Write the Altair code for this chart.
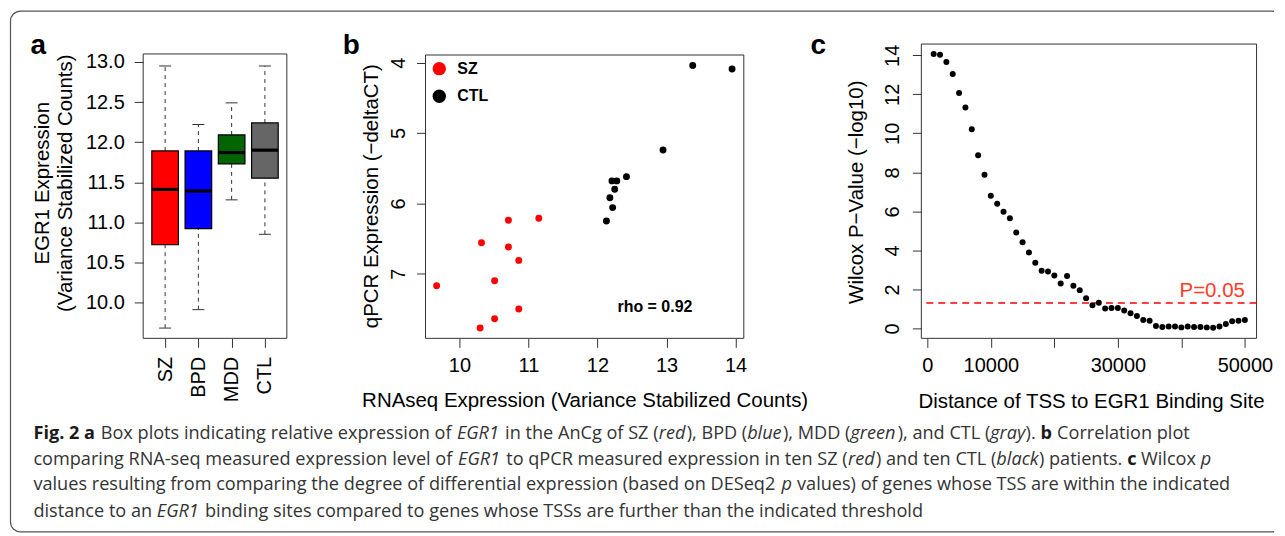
import json
import altair as alt
import pandas as pd

FONT = "Liberation Sans"
CAP_FONT = "Open Sans"

# ---------------- Panel a: box plot summary values ----------------
groups = ["SZ", "BPD", "MDD", "CTL"]
group_pos = [1, 2, 3, 4]
whisker_low = [9.68, 9.91, 11.28, 10.85]
box_q1 = [10.72, 10.92, 11.73, 11.55]
box_median = [11.41, 11.39, 11.87, 11.90]
box_q3 = [11.89, 11.89, 12.09, 12.24]
whisker_high = [12.95, 12.22, 12.49, 12.95]
box_colors = ["#ff0000", "#0000ff", "#006400", "#666666"]
a_ticks = [10.0, 10.5, 11.0, 11.5, 12.0, 12.5, 13.0]

# ---------------- Panel b: RNAseq vs qPCR ----------------
sz_rnaseq = [9.67, 10.30, 10.51, 10.86, 10.51, 10.86, 10.71, 10.32, 10.71, 11.15]
sz_qpcr = [7.17, 7.77, 7.64, 7.50, 7.10, 6.81, 6.62, 6.56, 6.24, 6.21]
ctl_rnaseq = [12.13, 12.22, 12.18, 12.25, 12.21, 12.28, 12.42, 12.95, 13.38, 13.95]
ctl_qpcr = [6.25, 6.06, 5.92, 5.80, 5.68, 5.68, 5.62, 5.24, 4.04, 4.09]
legend_groups = ["SZ", "CTL"]
legend_colors = ["#ff0000", "#000000"]
rho_label = "rho = 0.92"
b_xticks = [10, 11, 12, 13, 14]
b_yticks = [4, 5, 6, 7]

# ---------------- Panel c: Wilcox p-values vs distance ----------------
distance = [1000, 2000, 3000, 4000, 5000, 6000, 7000, 8000, 9000, 10000,
            11000, 12000, 13000, 14000, 15000, 16000, 17000, 18000, 19000, 20000,
            21000, 22000, 23000, 24000, 25000, 26000, 27000, 28000, 29000, 30000,
            31000, 32000, 33000, 34000, 35000, 36000, 37000, 38000, 39000, 40000,
            41000, 42000, 43000, 44000, 45000, 46000, 47000, 48000, 49000, 50000]
neglog10_p = [14.07, 14.03, 13.66, 13.04, 12.07, 11.32, 10.21, 8.87, 7.88, 6.80,
              6.39, 5.98, 5.64, 4.91, 4.42, 3.89, 3.36, 2.95, 2.92, 2.71,
              2.30, 2.69, 2.18, 1.96, 1.55, 1.18, 1.31, 1.02, 1.04, 1.04,
              0.92, 0.77, 0.63, 0.43, 0.39, 0.12, 0.07, 0.09, 0.10, 0.05,
              0.10, 0.07, 0.07, 0.05, 0.03, 0.09, 0.22, 0.36, 0.39, 0.43]
p_threshold = 1.301  # -log10(0.05)
p_label = "P=0.05"
c_xticks = [0, 10000, 20000, 30000, 40000, 50000]
c_yticks = [0, 2, 4, 6, 8, 10, 12, 14]

# ---------------- Caption ----------------
caption_lines = [
    [("Fig. 2 a", "b"), (" Box plots indicating relative expression of ", "r"), ("EGR1", "i"),
     (" in the AnCg of SZ (", "r"), ("red", "i"), ("), BPD (", "r"), ("blue", "i"),
     ("), MDD (", "r"), ("green", "i"), ("), and CTL (", "r"), ("gray", "i"), ("). ", "r"),
     ("b", "b"), (" Correlation plot", "r")],
    [("comparing RNA-seq measured expression level of ", "r"), ("EGR1", "i"),
     (" to qPCR measured expression in ten SZ (", "r"), ("red", "i"), (") and ten CTL (", "r"),
     ("black", "i"), (") patients. ", "r"), ("c", "b"), (" Wilcox ", "r"), ("p", "i")],
    [("values resulting from comparing the degree of differential expression (based on DESeq2 ", "r"),
     ("p", "i"), (" values) of genes whose TSS are within the indicated", "r")],
    [("distance to an ", "r"), ("EGR1", "i"),
     (" binding sites compared to genes whose TSSs are further than the indicated threshold", "r")],
]

# approximate Open Sans advance widths (units per 2048 em)
OS_W = {" ": 532, "!": 545, "(": 606, ")": 606, ",": 502, "-": 659, ".": 545, ":": 545, "=": 1171,
        "A": 1296, "B": 1327, "C": 1292, "D": 1493, "E": 1139, "F": 1057, "G": 1491, "H": 1511,
        "I": 571, "J": 547, "K": 1257, "L": 1063, "M": 1849, "N": 1544, "O": 1595, "P": 1233,
        "Q": 1595, "R": 1266, "S": 1124, "T": 1133, "U": 1491, "V": 1219, "W": 1896, "X": 1182,
        "Y": 1147, "Z": 1169, "a": 1139, "b": 1255, "c": 975, "d": 1255, "e": 1149, "f": 694,
        "g": 1122, "h": 1257, "i": 518, "j": 518, "k": 1075, "l": 518, "m": 1905, "n": 1257,
        "o": 1237, "p": 1255, "q": 1255, "r": 836, "s": 977, "t": 723, "u": 1257, "v": 1026,
        "w": 1593, "x": 1073, "y": 1028, "z": 977}
STYLE_F = {"r": 1.0, "b": 1.07, "i": 0.97}


def em_width(s, style):
    w = sum(OS_W.get(ch, 1171) for ch in s) / 2048.0
    return w * STYLE_F[style]


def axis(**kw):
    base = dict(domain=False, grid=False, ticks=True, tickSize=9, tickColor="#333333",
                tickWidth=1, labelFont=FONT, labelFontSize=20, labelColor="black",
                labelFlush=False, labelOverlap=False, titleFont=FONT, titleFontSize=20.5,
                titleColor="black", titleFontWeight="normal")
    base.update(kw)
    return alt.Axis(**base)


one_row = pd.DataFrame({"k": [0]})
H = 295
# page position of panel a's plot origin (all extra annotations are placed relative to it)
OX, OY = 143, 43
PANEL_B_X = 426
BORDER_L, BORDER_T, BORDER_R, BORDER_B = 10, 10, 1276, 532

# ================= Panel a =================
df_a = pd.DataFrame({"group": groups, "pos": group_pos, "wlo": whisker_low, "q1": box_q1,
                     "med": box_median, "q3": box_q3, "whi": whisker_high, "color": box_colors})
xa = alt.Scale(domain=[0.34, 4.66], nice=False, zero=False)
ya = alt.Scale(domain=[9.552, 13.224], nice=False, zero=False)
ax_ax = axis(values=group_pos, labelExpr=json.dumps([""] + groups) + "[datum.value]",
             labelAngle=270, labelAlign="right", labelBaseline="middle", labelPadding=9, title=None)
ax_ay = axis(values=a_ticks, format=".1f", labelAngle=0, labelAlign="right",
             labelBaseline="middle", labelPadding=10,
             title=["EGR1 Expression", "(Variance Stabilized Counts)"], titleAngle=270,
             titleX=42 - OX, titleY=139, titleAlign="center", titleBaseline="middle",
             titleLineHeight=23)

base_a = alt.Chart(df_a).transform_calculate(
    lo="datum.pos - 0.4", hi="datum.pos + 0.4", clo="datum.pos - 0.18", chi="datum.pos + 0.18")

wh_up = base_a.mark_rule(strokeDash=[4, 4], color="#333333", strokeWidth=1).encode(
    x=alt.X("pos:Q", scale=xa, axis=ax_ax), y=alt.Y("q3:Q", scale=ya, axis=ax_ay), y2="whi:Q")
wh_lo = base_a.mark_rule(strokeDash=[4, 4], color="#333333", strokeWidth=1).encode(
    x=alt.X("pos:Q", scale=xa, axis=ax_ax), y=alt.Y("wlo:Q", scale=ya, axis=ax_ay), y2="q1:Q")
cap_up = base_a.mark_rule(color="#333333", strokeWidth=1).encode(
    x=alt.X("clo:Q", scale=xa, axis=ax_ax), x2="chi:Q", y=alt.Y("whi:Q", scale=ya, axis=ax_ay))
cap_lo = base_a.mark_rule(color="#333333", strokeWidth=1).encode(
    x=alt.X("clo:Q", scale=xa, axis=ax_ax), x2="chi:Q", y=alt.Y("wlo:Q", scale=ya, axis=ax_ay))
boxes = base_a.mark_rect(stroke="black", strokeWidth=1.2, opacity=1).encode(
    x=alt.X("lo:Q", scale=xa, axis=ax_ax), x2="hi:Q",
    y=alt.Y("q1:Q", scale=ya, axis=ax_ay), y2="q3:Q",
    color=alt.Color("color:N", scale=None))
medians = base_a.mark_rule(color="black", strokeWidth=3.2).encode(
    x=alt.X("lo:Q", scale=xa, axis=ax_ax), x2="hi:Q", y=alt.Y("med:Q", scale=ya, axis=ax_ay))
frame_a = alt.Chart(pd.DataFrame({"x": [0.34], "x2": [4.66], "y": [9.552], "y2": [13.1]})).mark_rect(
    fillOpacity=0, stroke="#333333", strokeWidth=1).encode(
    x=alt.X("x:Q", scale=xa, axis=ax_ax), x2="x2:Q", y=alt.Y("y:Q", scale=ya, axis=ax_ay), y2="y2:Q")
label_a = alt.Chart(one_row).mark_text(text="a", font=FONT, fontSize=28, fontWeight="bold",
                                       align="left", baseline="alphabetic", color="black").encode(
    x=alt.value(30 - OX), y=alt.value(53 - OY))

# ---- caption (placed as text layers relative to panel a's origin) ----
line1_em = sum(em_width(t, s) for t, s in caption_lines[0])
cap_fs = round(1159.0 / line1_em, 2)
cap_x0 = 33.0
cap_baselines = [438.7, 464.7, 490.3, 517.0]
cap_layers = []
for line, base_y in zip(caption_lines, cap_baselines):
    cur = cap_x0
    for txt, st in line:
        lead = len(txt) - len(txt.lstrip(" "))
        cur += lead * em_width(" ", st) * cap_fs
        core = txt.strip(" ")
        if not core:
            continue
        kw = dict(color="#333333")
        if st == "b":
            kw = dict(color="#1a1a1a", fontWeight="bold")
        elif st == "i":
            kw = dict(color="#333333", fontStyle="italic")
        cap_layers.append(
            alt.Chart(one_row).mark_text(text=core, font=CAP_FONT, fontSize=cap_fs, align="left",
                                         baseline="alphabetic", **kw).encode(
                x=alt.value(round(cur - OX, 1)), y=alt.value(round(base_y - OY, 1))))
        cur += em_width(core, st) * cap_fs
        trail = len(txt) - len(txt.rstrip(" "))
        cur += trail * em_width(" ", st) * cap_fs

# figure border: rounded on the left, open on the right (continues past the picture's edge)
border = alt.Chart(one_row).mark_rect(fillOpacity=0, stroke="#555555", strokeWidth=1.2,
                                      cornerRadiusTopLeft=10, cornerRadiusBottomLeft=10).encode(
    x=alt.value(BORDER_L - OX), x2=alt.value(BORDER_R - OX),
    y=alt.value(BORDER_T - OY), y2=alt.value(BORDER_B - OY))
border_mask = alt.Chart(one_row).mark_rule(color="white", strokeWidth=3).encode(
    x=alt.value(BORDER_R - OX), y=alt.value(BORDER_T - OY + 1), y2=alt.value(BORDER_B - OY - 1))

panel_a = alt.layer(border, border_mask, wh_up, wh_lo, cap_up, cap_lo, boxes, medians, frame_a,
                    label_a, *cap_layers).properties(width=144, height=H)

# ================= Panel b =================
df_b = pd.DataFrame({
    "rnaseq": sz_rnaseq + ctl_rnaseq,
    "qpcr": sz_qpcr + ctl_qpcr,
    "group": ["SZ"] * len(sz_rnaseq) + ["CTL"] * len(ctl_rnaseq),
})
xb = alt.Scale(domain=[9.509, 14.683], nice=False, zero=False)
yb = alt.Scale(domain=[3.735, 7.918], nice=False, zero=False, reverse=True)
ax_bx = axis(values=b_xticks, format="d", labelAngle=0, labelAlign="center", labelBaseline="top",
             labelPadding=8, title="RNAseq Expression (Variance Stabilized Counts)",
             titleX=159.5, titleY=62, titleAlign="center", titleBaseline="middle", titleAngle=0)
ax_by = axis(values=b_yticks, format="d", labelAngle=270, labelAlign="center",
             labelBaseline="bottom", labelPadding=8, title="qPCR Expression (\u2212deltaCT)",
             titleAngle=270, titleX=-54.3, titleY=152, titleAlign="center", titleBaseline="middle")

frame_b = alt.Chart(pd.DataFrame({"x": [9.509], "x2": [14.12], "y": [3.891], "y2": [7.918]})).mark_rect(
    fillOpacity=0, stroke="#333333", strokeWidth=1).encode(
    x=alt.X("x:Q", scale=xb, axis=ax_bx), x2="x2:Q", y=alt.Y("y:Q", scale=yb, axis=ax_by), y2="y2:Q")
pts_b = alt.Chart(df_b).mark_circle(size=48, opacity=1).encode(
    x=alt.X("rnaseq:Q", scale=xb, axis=ax_bx),
    y=alt.Y("qpcr:Q", scale=yb, axis=ax_by),
    color=alt.Color("group:N", scale=alt.Scale(domain=legend_groups, range=legend_colors),
                    legend=alt.Legend(orient="none", legendX=PANEL_B_X - OX + 5.8, legendY=16.7,
                                      title=None, symbolSize=180, symbolType="circle",
                                      symbolStrokeWidth=0, labelFont=FONT, labelFontSize=16,
                                      labelFontWeight="bold", labelColor="black", labelOffset=10,
                                      rowPadding=11.6, padding=0)))
rho_txt = alt.Chart(pd.DataFrame({"x": [12.29], "y": [7.545], "t": [rho_label]})).mark_text(
    font=FONT, fontSize=16, fontWeight="bold", align="left", baseline="alphabetic",
    color="black").encode(x=alt.X("x:Q", scale=xb, axis=ax_bx), y=alt.Y("y:Q", scale=yb, axis=ax_by),
                          text="t:N")
label_b = alt.Chart(one_row).mark_text(text="b", font=FONT, fontSize=28, fontWeight="bold",
                                       align="left", baseline="alphabetic", color="black").encode(
    x=alt.value(343 - PANEL_B_X), y=alt.value(53 - OY))

panel_b = alt.layer(frame_b, pts_b, rho_txt, label_b).properties(width=358, height=H)

# ================= Panel c =================
df_c = pd.DataFrame({"dist": distance, "p": neglog10_p})
xc = alt.Scale(domain=[-942, 51838], nice=False, zero=False)
yc = alt.Scale(domain=[-0.512, 14.578], nice=False, zero=False)
ax_cx = axis(values=c_xticks, format="d",
             labelExpr="datum.value == 20000 || datum.value == 40000 ? '' : datum.label",
             labelAngle=0, labelAlign="center", labelBaseline="top", labelPadding=8,
             title="Distance of TSS to EGR1 Binding Site", titleX=170, titleY=63.5,
             titleAlign="center", titleBaseline="middle", titleAngle=0)
ax_cy = axis(values=c_yticks, format="d", labelAngle=270, labelAlign="center",
             labelBaseline="bottom", labelPadding=10, title="Wilcox P\u2212Value (\u2212log10)",
             titleAngle=270, titleX=-65, titleY=148, titleAlign="center", titleBaseline="middle")

frame_c = alt.Chart(pd.DataFrame({"x": [-942], "x2": [51838], "y": [-0.512], "y2": [14.578]})).mark_rect(
    fillOpacity=0, stroke="#333333", strokeWidth=1).encode(
    x=alt.X("x:Q", scale=xc, axis=ax_cx), x2="x2:Q", y=alt.Y("y:Q", scale=yc, axis=ax_cy), y2="y2:Q")
thr = alt.Chart(pd.DataFrame({"y": [p_threshold]})).mark_rule(
    color="#ff0000", strokeDash=[7, 5], strokeWidth=1.5).encode(
    y=alt.Y("y:Q", scale=yc, axis=ax_cy))
pts_c = alt.Chart(df_c).mark_circle(size=36, opacity=1, color="black").encode(
    x=alt.X("dist:Q", scale=xc, axis=ax_cx), y=alt.Y("p:Q", scale=yc, axis=ax_cy))
p_txt = alt.Chart(pd.DataFrame({"x": [50000], "y": [1.6], "t": [p_label]})).mark_text(
    font=FONT, fontSize=20.5, align="right", baseline="alphabetic", color="#ff3b2a").encode(
    x=alt.X("x:Q", scale=xc, axis=ax_cx), y=alt.Y("y:Q", scale=yc, axis=ax_cy), text="t:N")
label_c = alt.Chart(one_row).mark_text(text="c", font=FONT, fontSize=28, fontWeight="bold",
                                       align="left", baseline="alphabetic", color="black").encode(
    x=alt.value(812 - 923), y=alt.value(53 - OY))

panel_c = alt.layer(frame_c, thr, pts_c, p_txt, label_c).properties(width=336, height=H)

chart = alt.hconcat(panel_a, panel_b, panel_c, spacing=139, bounds="flush").properties(
    padding={"left": 1.5, "top": 1.5, "right": 1.5, "bottom": 1.5},
    background="white",
).configure_view(strokeWidth=0)

chart.save("out.html", embed_options={"renderer": "svg", "actions": False})
